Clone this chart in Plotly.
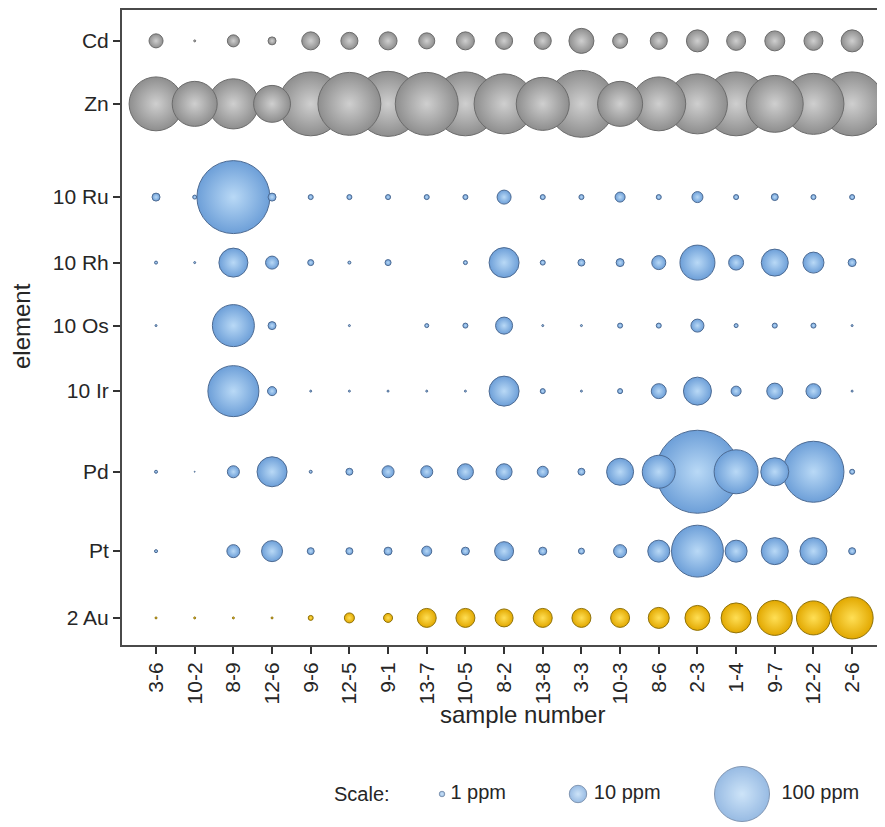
import plotly.graph_objects as go

# ---------------- data ----------------
samples = ["3-6", "10-2", "8-9", "12-6", "9-6", "12-5", "9-1", "13-7", "10-5", "8-2",
           "13-8", "3-3", "10-3", "8-6", "2-3", "1-4", "9-7", "12-2", "2-6"]

row_labels = ["Cd", "Zn", "10 Ru", "10 Rh", "10 Os", "10 Ir", "Pd", "Pt", "2 Au"]
row_factor = [1, 1, 10, 10, 10, 10, 1, 1, 2]
row_group = ["grey", "grey", "blue", "blue", "blue", "blue", "blue", "blue", "gold"]

# concentrations (ppm), None = not detected
Cd = [6.5, 0.13, 4.8, 2.1, 10.7, 9.6, 10.7, 8.5, 10.7, 9.6, 9.6, 20.7, 7.4, 9.6, 16, 11.9, 13.2, 11.9, 16]
Zn = [96, 67, 83, 45, 135, 131, 140, 131, 135, 119, 93, 148, 67, 96, 119, 135, 107, 123, 135]
Ru = [0.21, 0.053, 17.6, 0.21, 0.083, 0.083, 0.083, 0.083, 0.083, 0.65, 0.083, 0.083, 0.33, 0.083, 0.4, 0.083, 0.16, 0.083, 0.083]
Rh = [0.03, 0.013, 2.78, 0.56, 0.12, 0.03, 0.12, None, 0.053, 2.98, 0.083, 0.16, 0.21, 0.65, 4.05, 0.74, 2.41, 1.46, 0.21]
Os = [0.013, None, 5.83, 0.21, None, 0.013, None, 0.053, 0.083, 0.96, 0.013, 0.013, 0.083, 0.083, 0.56, 0.053, 0.083, 0.083, 0.013]
Ir = [None, None, 8.6, 0.27, 0.013, 0.013, 0.013, 0.013, 0.013, 2.98, 0.083, 0.013, 0.083, 0.74, 2.59, 0.33, 0.85, 0.74, 0.013]
Pd = [0.3, 0.03, 4.8, 29.8, 0.3, 1.6, 4.8, 4.8, 8.5, 8.5, 4.0, 1.6, 24.1, 36, 228, 64, 25.9, 123, 0.83]
Pt = [0.3, None, 5.6, 14.6, 1.6, 1.6, 2.1, 3.3, 2.1, 11.9, 2.1, 1.19, 5.6, 16, 89, 16, 24.1, 24.1, 1.6]
Au = [0.066, 0.066, 0.066, 0.066, 0.41, 1.65, 1.34, 5.95, 5.95, 5.35, 5.95, 5.95, 5.95, 7.3, 10.3, 14.9, 20.2, 19.1, 29.2]

rows = [Cd, Zn, Ru, Rh, Os, Ir, Pd, Pt, Au]

legend_ppm = [1, 10, 100]
legend_text = ["1 ppm", "10 ppm", "100 ppm"]

# ---------------- layout / style ----------------
row_pos = [0, 1, 2.48, 3.52, 4.52, 5.56, 6.84, 8.1, 9.16]   # vertical row placement (axis units)
legend_x = [442, 578, 742]                                 # legend bubble placement (legend axis units)

# rim colour (marker colour) and highlight colour (gradient centre)
styles = {
    "grey": dict(rim="#8e8e8e", hi="#cfcfcf", line="#6c6c6c"),
    "blue": dict(rim="#6d9fd8", hi="#b9d9f6", line="#4d6b93"),
    "gold": dict(rim="#e2a800", hi="#ffdf55", line="#8f720a"),
}

SIZEREF = 2.0 / 5.5 ** 2   # diameter = 5.5 * sqrt(ppm)
FONT = "Liberation Sans, Arial, sans-serif"
TXT = "#262626"

fig = go.Figure()

for grp in ["grey", "blue", "gold"]:
    pts = []
    for r, (lab, fac, g, vals) in enumerate(zip(row_labels, row_factor, row_group, rows)):
        if g != grp:
            continue
        for i, v in enumerate(vals):
            if v is None:
                continue
            pts.append((v * fac, samples[i], row_pos[r], lab, v))
    pts.sort(key=lambda p: -p[0])
    st = styles[grp]
    fig.add_trace(go.Scatter(
        x=[p[1] for p in pts], y=[p[2] for p in pts],
        mode="markers",
        marker=dict(size=[p[0] for p in pts], sizemode="area", sizeref=SIZEREF,
                    color=st["rim"], gradient=dict(type="radial", color=st["hi"]),
                    line=dict(color=st["line"], width=1), opacity=1),
        text=[f"{p[3]}: {p[4]} ppm" for p in pts],
        hoverinfo="text+x", cliponaxis=True, showlegend=False,
    ))

# size legend
st = styles["blue"]
fig.add_trace(go.Scatter(
    x=legend_x, y=[0.5] * len(legend_ppm), xaxis="x2", yaxis="y2",
    mode="markers+text", text=["\u2009" + t for t in legend_text], textposition="middle right",
    textfont=dict(family=FONT, size=20, color=TXT),
    marker=dict(size=legend_ppm, sizemode="area", sizeref=SIZEREF,
                color=st["rim"], gradient=dict(type="radial", color=st["hi"]),
                line=dict(color=st["line"], width=1)),
    hoverinfo="skip", showlegend=False, cliponaxis=False,
))

# the page body adds an 8px margin, so the figure is drawn 8px in/down
OFF = 8
PAGE_W, PAGE_H = 885, 827
W, H = PAGE_W - OFF, PAGE_H - OFF
plot_left, plot_right, plot_top, plot_bottom = 122, 885, 10, 645   # page pixels
ml, mr, mt, mb = plot_left - OFF, 0, plot_top - OFF, 0
ph = H - mt - mb
pw = W - ml - mr


def px(xp):
    return (xp - plot_left) / pw


def py(yp):
    return (PAGE_H - yp) / ph


fig.update_layout(
    width=W, height=H,
    margin=dict(l=ml, r=mr, t=mt, b=mb, pad=0, autoexpand=False),
    paper_bgcolor="white", plot_bgcolor="white",
    font=dict(family=FONT, size=21, color=TXT),
    xaxis=dict(
        type="category", categoryorder="array", categoryarray=samples,
        range=[-0.88, 18.85], domain=[0, 1], automargin=False,
        showgrid=False, zeroline=False,
        showline=True, linecolor="#4a4a4a", linewidth=2, mirror=True,
        ticks="outside", ticklen=7, tickwidth=1.5, tickcolor="#333",
        tickangle=-90, tickfont=dict(size=21, color=TXT),
        anchor="y",
    ),
    yaxis=dict(
        tickmode="array", tickvals=row_pos, ticktext=row_labels,
        range=[9.59, -0.49], domain=[py(plot_bottom), 1], automargin=False,
        showgrid=False, zeroline=False,
        showline=True, linecolor="#4a4a4a", linewidth=2, mirror=False,
        ticks="outside", ticklen=7, tickwidth=1.5, tickcolor="#333",
        tickfont=dict(size=21, color=TXT),
        anchor="x",
    ),
    xaxis2=dict(domain=[0, 1], range=[plot_left, plot_right], visible=False, anchor="y2", fixedrange=True),
    yaxis2=dict(domain=[0, py(761)], range=[0, 1], visible=False, anchor="x2", fixedrange=True),
    annotations=[
        dict(text="sample number", xref="paper", yref="paper",
             x=px(522), y=py(714),
             xanchor="center", yanchor="middle", showarrow=False,
             font=dict(size=24, color=TXT)),
        dict(text="element", xref="paper", yref="paper",
             x=px(22), y=py(326), textangle=-90,
             xanchor="center", yanchor="middle", showarrow=False,
             font=dict(size=24, color=TXT)),
        dict(text="Scale:", xref="x2", yref="y2", x=392, y=0.5,
             xanchor="right", yanchor="middle", showarrow=False,
             font=dict(size=20, color=TXT)),
    ],
)

fig.write_html("out.html")
